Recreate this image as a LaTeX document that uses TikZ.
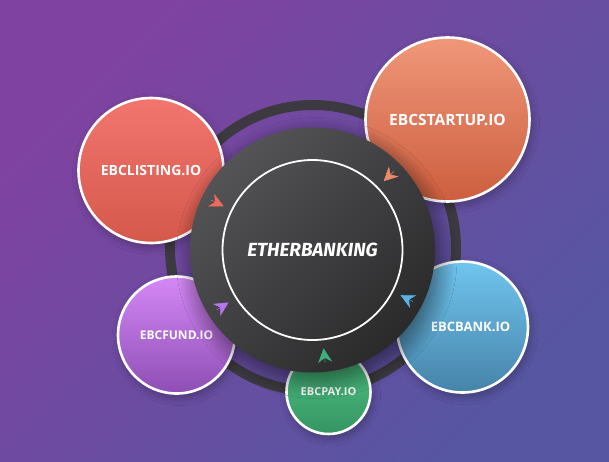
\documentclass[tikz,border=0pt]{standalone}
\usepackage{fontspec}
\setmainfont{Open Sans}
\newfontfamily\logofont{Fira Sans}
\usetikzlibrary{arrows.meta,calc,shadows.blur}
\definecolor{bgtop}{HTML}{8042A0}
\definecolor{bgbot}{HTML}{5656A2}
\definecolor{ringgray}{HTML}{3C3A40}
\definecolor{hubtop}{HTML}{545457}
\definecolor{hubbot}{HTML}{2A2A2B}
\definecolor{listtop}{HTML}{F2756F}
\definecolor{listbot}{HTML}{D4584A}
\definecolor{starttop}{HTML}{F0977A}
\definecolor{startbot}{HTML}{CC5E3E}
\definecolor{fundtop}{HTML}{D488F6}
\definecolor{fundbot}{HTML}{8E4EB4}
\definecolor{banktop}{HTML}{70C5EF}
\definecolor{bankbot}{HTML}{4683A9}
\definecolor{paytop}{HTML}{4EC585}
\definecolor{paybot}{HTML}{359462}
\definecolor{arrred}{HTML}{EE6A5C}
\definecolor{arrorange}{HTML}{EE8A6A}
\definecolor{arrblue}{HTML}{5AB2E6}
\definecolor{arrgreen}{HTML}{3EB07A}
\definecolor{arrpurple}{HTML}{B676F0}
\tikzset{
    %Define standard arrow tip
    >={Stealth[length=14pt,width=14pt,inset=4.5pt]},
    %Define style for the orbit ring
    orbit/.style={
           circle,
           draw = ringgray, line width = 10pt,
           inner sep = 0pt},
    %Define style for the satellite circles
    sat/.style={
           circle,
           draw = white, line width = 2.6pt,
           shading angle = 45,
           text = white, text centered,
           inner sep = 0pt,
           blur shadow = {shadow xshift = 2pt, shadow yshift = -4pt,
                          shadow opacity = 30, shadow blur radius = 8pt,
                          shadow blur steps = 16}},
    %Define style for the hub
    hub/.style={
           circle,
           top color = hubtop, bottom color = hubbot,
           shading angle = 45,
           inner sep = 0pt,
           minimum size = 245pt,
           blur shadow = {shadow xshift = 4pt, shadow yshift = -8pt,
                          shadow opacity = 55, shadow blur radius = 18pt,
                          shadow blur steps = 30}},
    hubring/.style={
           circle,
           draw = white, line width = 1.8pt,
           inner sep = 0pt,
           minimum size = 180pt,
           text = white,
           font = \logofont\bfseries\itshape\fontsize{19}{21}\selectfont},
    % Define arrow style
    ptr/.style={
           ->,
           line width = 0.5pt}
}
\begin{document}
\begin{tikzpicture}[x=1pt, y=-1pt]
% background
\shade[top color = bgtop, bottom color = bgbot, shading angle = 45]
    (0,0) rectangle (609,461);
\useasboundingbox (0,0) rectangle (609,461);
 %nodes
\node[orbit, minimum size = 286pt] (ring) at (313,248) {};
\node[sat, top color = listtop, bottom color = listbot, minimum size = 145pt,
      font = \bfseries\fontsize{14}{16}\selectfont] (listing) at (151,170.5) {EBCLISTING.IO};
\node[sat, top color = starttop, bottom color = startbot, minimum size = 164pt,
      font = \bfseries\fontsize{15.5}{17}\selectfont] (startup) at (447.5,119.5) {EBCSTARTUP.IO};
\node[sat, top color = fundtop, bottom color = fundbot, minimum size = 117pt,
      font = \bfseries\fontsize{12}{14}\selectfont] (fund) at (176.5,335) {EBCFUND.IO};
\node[sat, top color = banktop, bottom color = bankbot, minimum size = 131pt,
      font = \bfseries\fontsize{13}{15}\selectfont] (bank) at (462.5,327) {\hspace*{16pt}EBCBANK.IO};
\node[sat, top color = paytop, bottom color = paybot, minimum size = 84pt,
      font = \bfseries\fontsize{11}{13}\selectfont] (pay) at (328.5,392) {EBCPAY.IO};
\node[hub] (hub) at (312.5,250) {};
\node[hubring] (core) at (hub.center) {ETHERBANKING};
 %arrows
\foreach \s/\c in {listing/arrred, startup/arrorange, bank/arrblue,
                   pay/arrgreen, fund/arrpurple}
    \draw[ptr, \c] ($(hub.center)!113pt!(\s.center)$) -- ($(hub.center)!99pt!(\s.center)$);
\end{tikzpicture}
\end{document}
